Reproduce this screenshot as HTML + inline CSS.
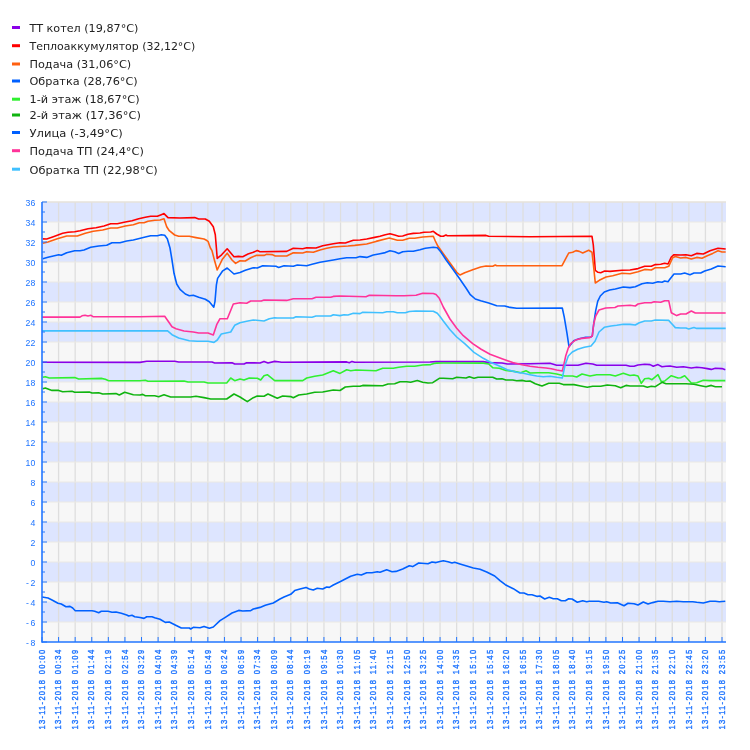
<!DOCTYPE html><html><head><meta charset="utf-8"><style>html,body{margin:0;padding:0;background:#fff;overflow:hidden;width:750px;height:750px;}svg{display:block;will-change:transform}</style></head><body>
<svg width="750" height="750" viewBox="0 0 750 750">
<rect width="750" height="750" fill="#fff"/>
<rect x="42" y="202" width="684" height="20" fill="#dde5ff"/>
<rect x="42" y="222" width="684" height="20" fill="#f7f7f7"/>
<rect x="42" y="242" width="684" height="20" fill="#dde5ff"/>
<rect x="42" y="262" width="684" height="20" fill="#f7f7f7"/>
<rect x="42" y="282" width="684" height="20" fill="#dde5ff"/>
<rect x="42" y="302" width="684" height="20" fill="#f7f7f7"/>
<rect x="42" y="322" width="684" height="20" fill="#dde5ff"/>
<rect x="42" y="342" width="684" height="20" fill="#f7f7f7"/>
<rect x="42" y="362" width="684" height="20" fill="#dde5ff"/>
<rect x="42" y="382" width="684" height="20" fill="#f7f7f7"/>
<rect x="42" y="402" width="684" height="20" fill="#dde5ff"/>
<rect x="42" y="422" width="684" height="20" fill="#f7f7f7"/>
<rect x="42" y="442" width="684" height="20" fill="#dde5ff"/>
<rect x="42" y="462" width="684" height="20" fill="#f7f7f7"/>
<rect x="42" y="482" width="684" height="20" fill="#dde5ff"/>
<rect x="42" y="502" width="684" height="20" fill="#f7f7f7"/>
<rect x="42" y="522" width="684" height="20" fill="#dde5ff"/>
<rect x="42" y="542" width="684" height="20" fill="#f7f7f7"/>
<rect x="42" y="562" width="684" height="20" fill="#dde5ff"/>
<rect x="42" y="582" width="684" height="20" fill="#f7f7f7"/>
<rect x="42" y="602" width="684" height="20" fill="#dde5ff"/>
<rect x="42" y="622" width="684" height="20" fill="#f7f7f7"/>
<line x1="58.59" y1="202" x2="58.59" y2="642" stroke="#dedede" stroke-width="1.3"/>
<line x1="75.17" y1="202" x2="75.17" y2="642" stroke="#dedede" stroke-width="1.3"/>
<line x1="91.76" y1="202" x2="91.76" y2="642" stroke="#dedede" stroke-width="1.3"/>
<line x1="108.34" y1="202" x2="108.34" y2="642" stroke="#dedede" stroke-width="1.3"/>
<line x1="124.93" y1="202" x2="124.93" y2="642" stroke="#dedede" stroke-width="1.3"/>
<line x1="141.51" y1="202" x2="141.51" y2="642" stroke="#dedede" stroke-width="1.3"/>
<line x1="158.10" y1="202" x2="158.10" y2="642" stroke="#dedede" stroke-width="1.3"/>
<line x1="174.68" y1="202" x2="174.68" y2="642" stroke="#dedede" stroke-width="1.3"/>
<line x1="191.27" y1="202" x2="191.27" y2="642" stroke="#dedede" stroke-width="1.3"/>
<line x1="207.85" y1="202" x2="207.85" y2="642" stroke="#dedede" stroke-width="1.3"/>
<line x1="224.44" y1="202" x2="224.44" y2="642" stroke="#dedede" stroke-width="1.3"/>
<line x1="241.02" y1="202" x2="241.02" y2="642" stroke="#dedede" stroke-width="1.3"/>
<line x1="257.61" y1="202" x2="257.61" y2="642" stroke="#dedede" stroke-width="1.3"/>
<line x1="274.20" y1="202" x2="274.20" y2="642" stroke="#dedede" stroke-width="1.3"/>
<line x1="290.78" y1="202" x2="290.78" y2="642" stroke="#dedede" stroke-width="1.3"/>
<line x1="307.37" y1="202" x2="307.37" y2="642" stroke="#dedede" stroke-width="1.3"/>
<line x1="323.95" y1="202" x2="323.95" y2="642" stroke="#dedede" stroke-width="1.3"/>
<line x1="340.54" y1="202" x2="340.54" y2="642" stroke="#dedede" stroke-width="1.3"/>
<line x1="357.12" y1="202" x2="357.12" y2="642" stroke="#dedede" stroke-width="1.3"/>
<line x1="373.71" y1="202" x2="373.71" y2="642" stroke="#dedede" stroke-width="1.3"/>
<line x1="390.29" y1="202" x2="390.29" y2="642" stroke="#dedede" stroke-width="1.3"/>
<line x1="406.88" y1="202" x2="406.88" y2="642" stroke="#dedede" stroke-width="1.3"/>
<line x1="423.46" y1="202" x2="423.46" y2="642" stroke="#dedede" stroke-width="1.3"/>
<line x1="440.05" y1="202" x2="440.05" y2="642" stroke="#dedede" stroke-width="1.3"/>
<line x1="456.63" y1="202" x2="456.63" y2="642" stroke="#dedede" stroke-width="1.3"/>
<line x1="473.22" y1="202" x2="473.22" y2="642" stroke="#dedede" stroke-width="1.3"/>
<line x1="489.80" y1="202" x2="489.80" y2="642" stroke="#dedede" stroke-width="1.3"/>
<line x1="506.39" y1="202" x2="506.39" y2="642" stroke="#dedede" stroke-width="1.3"/>
<line x1="522.98" y1="202" x2="522.98" y2="642" stroke="#dedede" stroke-width="1.3"/>
<line x1="539.56" y1="202" x2="539.56" y2="642" stroke="#dedede" stroke-width="1.3"/>
<line x1="556.15" y1="202" x2="556.15" y2="642" stroke="#dedede" stroke-width="1.3"/>
<line x1="572.73" y1="202" x2="572.73" y2="642" stroke="#dedede" stroke-width="1.3"/>
<line x1="589.32" y1="202" x2="589.32" y2="642" stroke="#dedede" stroke-width="1.3"/>
<line x1="605.90" y1="202" x2="605.90" y2="642" stroke="#dedede" stroke-width="1.3"/>
<line x1="622.49" y1="202" x2="622.49" y2="642" stroke="#dedede" stroke-width="1.3"/>
<line x1="639.07" y1="202" x2="639.07" y2="642" stroke="#dedede" stroke-width="1.3"/>
<line x1="655.66" y1="202" x2="655.66" y2="642" stroke="#dedede" stroke-width="1.3"/>
<line x1="672.24" y1="202" x2="672.24" y2="642" stroke="#dedede" stroke-width="1.3"/>
<line x1="688.83" y1="202" x2="688.83" y2="642" stroke="#dedede" stroke-width="1.3"/>
<line x1="705.41" y1="202" x2="705.41" y2="642" stroke="#dedede" stroke-width="1.3"/>
<line x1="722.00" y1="202" x2="722.00" y2="642" stroke="#dedede" stroke-width="1.3"/>
<line x1="42" y1="222" x2="726" y2="222" stroke="#ebe9e4" stroke-width="1"/>
<line x1="42" y1="242" x2="726" y2="242" stroke="#ebe9e4" stroke-width="1"/>
<line x1="42" y1="262" x2="726" y2="262" stroke="#ebe9e4" stroke-width="1"/>
<line x1="42" y1="282" x2="726" y2="282" stroke="#ebe9e4" stroke-width="1"/>
<line x1="42" y1="302" x2="726" y2="302" stroke="#ebe9e4" stroke-width="1"/>
<line x1="42" y1="322" x2="726" y2="322" stroke="#ebe9e4" stroke-width="1"/>
<line x1="42" y1="342" x2="726" y2="342" stroke="#ebe9e4" stroke-width="1"/>
<line x1="42" y1="362" x2="726" y2="362" stroke="#ebe9e4" stroke-width="1"/>
<line x1="42" y1="382" x2="726" y2="382" stroke="#ebe9e4" stroke-width="1"/>
<line x1="42" y1="402" x2="726" y2="402" stroke="#ebe9e4" stroke-width="1"/>
<line x1="42" y1="422" x2="726" y2="422" stroke="#ebe9e4" stroke-width="1"/>
<line x1="42" y1="442" x2="726" y2="442" stroke="#ebe9e4" stroke-width="1"/>
<line x1="42" y1="462" x2="726" y2="462" stroke="#ebe9e4" stroke-width="1"/>
<line x1="42" y1="482" x2="726" y2="482" stroke="#ebe9e4" stroke-width="1"/>
<line x1="42" y1="502" x2="726" y2="502" stroke="#ebe9e4" stroke-width="1"/>
<line x1="42" y1="522" x2="726" y2="522" stroke="#ebe9e4" stroke-width="1"/>
<line x1="42" y1="542" x2="726" y2="542" stroke="#ebe9e4" stroke-width="1"/>
<line x1="42" y1="562" x2="726" y2="562" stroke="#ebe9e4" stroke-width="1"/>
<line x1="42" y1="582" x2="726" y2="582" stroke="#ebe9e4" stroke-width="1"/>
<line x1="42" y1="602" x2="726" y2="602" stroke="#ebe9e4" stroke-width="1"/>
<line x1="42" y1="622" x2="726" y2="622" stroke="#ebe9e4" stroke-width="1"/>
<line x1="42" y1="202" x2="726" y2="202" stroke="#e6e2da" stroke-width="1.3"/>
<polyline points="42.0,362.3 140.0,362.4 146.7,361.3 174.7,361.3 178.7,362.0 212.0,362.0 214.7,363.0 232.0,362.7 234.7,364.0 244.0,364.0 246.7,362.7 260.0,363.0 264.0,361.4 268.0,363.0 274.7,361.4 280.0,362.0 281.3,362.3 346.7,361.9 349.3,362.7 352.0,361.4 354.7,362.3 430.0,362.0 436.0,361.6 483.3,361.6 488.7,362.6 502.0,363.0 507.3,364.0 530.0,363.8 550.0,363.3 556.7,365.3 578.0,365.3 586.0,363.3 592.7,364.0 596.7,365.3 626.0,365.3 630.0,366.3 634.0,366.3 638.0,365.0 644.7,364.3 650.0,364.6 653.3,366.3 658.0,364.6 662.0,366.7 666.0,366.3 670.0,366.0 676.7,367.3 683.3,366.7 691.3,368.0 696.7,367.3 702.0,367.7 707.3,368.6 711.3,369.4 715.3,368.3 722.0,368.6 725.3,369.7" fill="none" stroke="#8a00e8" stroke-width="1.6" stroke-linejoin="round" stroke-linecap="butt"/>
<polyline points="42.7,238.9 46.7,239.0 53.3,236.7 57.3,235.3 62.7,233.3 68.0,232.3 74.7,231.7 80.0,230.7 88.0,228.7 96.0,227.7 104.0,226.0 110.7,223.7 117.3,223.7 125.3,222.0 132.0,220.7 138.7,218.7 145.3,217.3 150.7,216.3 157.3,216.3 161.3,214.7 164.0,213.6 168.0,217.6 180.0,218.0 194.7,217.6 198.7,219.0 205.3,219.0 209.3,221.3 213.3,226.7 215.3,234.7 216.4,248.0 217.2,258.4 221.6,254.8 227.2,248.8 234.0,256.8 238.4,256.4 242.7,256.7 248.0,254.0 253.3,252.3 257.3,250.6 260.0,251.7 286.7,251.4 293.3,248.3 302.7,248.7 306.7,247.7 316.0,248.0 322.7,245.7 333.3,243.7 340.0,242.8 345.3,243.0 353.3,240.3 360.0,240.0 366.7,239.0 374.7,237.4 380.0,236.3 385.3,234.7 390.0,233.7 394.7,235.0 398.7,236.3 402.7,236.0 408.0,234.3 413.3,233.4 420.0,233.0 424.0,232.3 430.7,232.0 433.3,231.3 436.7,234.0 440.7,236.3 443.3,236.3 446.0,235.0 447.3,235.7 486.0,235.4 488.7,236.3 530.0,236.7 592.0,236.3 593.3,245.0 594.7,262.3 595.3,270.3 598.0,272.3 600.7,272.7 604.7,271.0 610.0,271.4 622.0,270.3 630.0,270.0 638.0,268.6 644.7,266.3 651.3,266.3 655.3,264.6 660.7,264.3 664.7,263.3 668.0,264.0 671.3,257.0 674.0,254.7 680.7,255.0 686.0,254.7 691.3,255.7 696.7,253.4 703.3,254.0 710.0,250.7 718.0,248.3 725.7,249.0" fill="none" stroke="#ff0000" stroke-width="1.6" stroke-linejoin="round" stroke-linecap="butt"/>
<polyline points="42.7,243.3 48.0,242.0 57.3,238.7 66.7,236.0 77.3,236.0 85.3,233.3 93.3,231.3 102.7,230.0 110.7,228.0 117.3,228.0 125.3,226.0 133.3,224.7 139.3,222.7 144.0,222.7 148.0,221.3 154.7,220.3 160.0,220.0 164.0,218.7 166.7,226.7 169.3,230.7 174.7,235.0 178.7,236.3 189.3,236.3 196.0,237.6 204.0,239.0 206.0,240.0 208.0,241.3 210.4,248.0 212.0,250.7 214.4,260.0 217.2,270.0 222.4,259.2 227.2,253.2 232.0,260.0 235.6,263.4 240.0,260.8 245.3,261.0 250.7,257.7 256.0,255.4 264.0,255.4 266.7,254.3 272.0,254.6 275.3,256.0 286.7,256.0 293.3,252.7 302.7,253.0 306.7,251.7 313.3,252.3 320.0,250.0 326.7,248.3 333.3,247.0 340.0,246.5 348.0,246.0 354.7,245.4 366.7,244.0 376.0,241.4 389.3,238.0 397.3,240.3 402.7,240.3 409.3,238.3 414.7,238.3 422.7,237.0 433.3,236.2 435.3,241.0 438.0,246.3 443.3,253.7 450.0,263.0 456.7,272.3 460.0,275.0 464.7,272.7 472.7,269.7 480.7,267.0 486.0,266.0 492.7,266.3 495.3,265.0 496.7,265.7 562.0,265.7 568.7,253.0 572.7,252.3 576.0,250.6 579.3,251.4 582.7,253.0 588.7,250.3 592.0,252.3 593.3,263.7 595.3,283.0 599.3,280.3 606.0,277.0 612.7,275.7 622.0,273.3 630.0,273.7 638.0,271.7 644.7,269.4 651.3,270.0 655.3,267.7 664.7,267.7 668.7,266.3 672.7,257.7 675.3,256.6 680.7,258.0 686.0,257.4 691.3,259.0 696.7,257.4 702.0,258.3 707.3,255.7 712.7,253.4 718.0,250.7 722.0,252.0 725.7,252.0" fill="none" stroke="#ff6010" stroke-width="1.6" stroke-linejoin="round" stroke-linecap="butt"/>
<polyline points="42.7,258.7 48.0,257.3 53.3,256.0 58.7,254.7 61.3,255.3 66.7,252.7 74.7,250.7 80.0,250.7 84.0,250.0 90.7,247.3 98.7,246.0 106.7,245.3 112.0,242.7 120.0,242.7 126.7,241.0 133.3,240.0 139.3,238.5 145.3,237.0 150.7,235.7 157.3,235.7 161.3,234.7 164.7,235.3 167.3,238.7 170.0,248.0 172.0,260.0 174.0,273.3 176.7,284.0 180.0,289.3 185.3,294.0 189.3,295.7 193.3,295.3 198.7,297.3 205.3,299.3 209.3,301.8 213.8,307.2 215.0,301.3 216.4,284.8 217.6,278.4 222.4,271.2 227.2,268.0 234.0,274.0 240.0,272.4 245.3,270.3 253.3,267.7 257.3,268.0 262.7,265.7 276.0,266.3 278.7,267.4 284.0,265.7 293.3,266.3 297.3,265.0 306.7,265.7 312.0,264.3 320.0,262.3 333.3,260.0 340.0,258.8 346.7,257.7 356.0,257.7 360.0,256.6 366.7,257.4 373.3,255.0 380.0,253.7 385.3,252.6 390.0,250.7 394.7,251.7 398.7,253.4 402.7,251.7 408.0,251.3 413.3,251.3 420.0,249.7 425.3,248.3 433.3,247.3 437.3,247.8 440.7,251.7 446.0,259.7 452.7,269.0 459.3,278.3 466.0,288.0 470.0,294.3 475.3,299.0 480.7,300.7 488.7,303.0 496.7,305.7 504.7,306.0 510.0,307.4 516.7,308.3 562.3,308.0 564.3,317.3 567.0,333.3 569.0,346.7 573.7,340.7 579.0,338.7 585.7,337.3 590.3,337.3 592.3,336.0 593.0,329.3 594.3,320.0 595.7,310.7 597.7,301.3 600.3,296.0 604.3,292.0 609.7,290.0 615.3,289.0 623.3,287.0 630.0,287.6 635.3,286.7 642.0,283.7 647.3,282.7 652.7,283.3 658.0,281.7 662.0,282.3 664.7,281.0 668.0,281.7 670.0,279.0 674.0,274.0 680.7,274.0 684.7,273.0 690.0,274.7 694.0,273.0 700.7,273.0 704.7,271.0 711.3,269.0 718.0,266.0 725.7,266.7" fill="none" stroke="#0060ff" stroke-width="1.6" stroke-linejoin="round" stroke-linecap="butt"/>
<polyline points="42.7,377.3 45.3,376.7 49.3,378.0 74.7,377.6 78.7,379.0 101.3,378.4 105.3,379.3 108.7,380.7 140.0,380.7 145.3,380.3 148.0,381.3 184.0,381.0 188.0,382.0 204.0,382.0 208.0,383.0 226.7,383.0 230.7,378.0 234.7,380.7 240.0,379.0 244.0,380.0 249.3,378.0 257.3,378.3 260.7,380.0 264.0,375.7 267.3,374.7 274.7,380.6 302.7,380.6 306.7,378.0 314.7,376.3 322.7,375.0 333.3,370.7 340.0,373.4 346.7,369.7 350.7,370.7 356.0,370.0 376.0,370.7 382.7,368.3 393.3,368.3 398.7,367.3 406.7,366.3 414.7,366.3 422.7,365.0 430.7,364.6 434.0,363.5 436.7,363.1 443.3,363.0 483.3,363.1 488.7,364.0 493.0,367.8 499.3,368.2 506.0,370.5 514.0,371.4 520.7,372.8 526.0,370.8 530.0,373.0 538.0,372.7 548.7,372.7 556.7,374.0 564.7,376.0 572.7,376.0 576.7,377.0 582.0,374.0 590.0,376.0 596.7,374.7 610.0,374.7 615.3,376.0 623.3,373.3 630.0,375.5 634.0,375.0 638.0,376.0 641.3,383.3 644.7,378.7 648.7,378.3 652.0,379.7 658.0,374.7 661.3,381.7 664.7,381.0 671.3,375.7 678.0,378.0 680.7,377.7 684.7,375.7 691.3,383.0 696.7,382.7 703.3,380.3 710.0,380.6 725.3,380.6" fill="none" stroke="#30f030" stroke-width="1.6" stroke-linejoin="round" stroke-linecap="butt"/>
<polyline points="42.7,388.7 45.3,388.0 52.0,390.4 58.7,390.4 62.7,391.7 72.0,391.3 74.7,392.3 89.3,392.0 92.0,393.0 98.7,392.7 102.7,394.0 116.0,393.6 119.3,395.0 124.7,392.3 133.3,394.7 140.0,395.0 142.7,394.4 145.3,395.7 154.7,395.7 158.7,396.7 164.0,394.7 170.7,397.0 190.7,397.0 196.0,396.3 204.0,397.6 210.7,399.0 226.7,399.0 234.0,394.0 240.0,397.0 247.3,401.7 253.3,397.7 257.3,396.0 264.0,396.3 268.0,394.0 277.3,398.3 282.7,396.0 290.7,396.6 293.3,397.7 298.7,395.0 306.7,394.0 314.7,392.3 322.7,392.0 333.3,390.0 340.0,390.5 345.3,387.0 353.3,386.3 360.0,386.3 362.7,385.4 382.7,385.7 388.0,384.0 394.7,383.7 400.0,381.7 406.7,381.7 410.7,382.3 417.3,380.6 422.7,382.3 428.0,383.0 432.7,382.7 439.3,378.3 443.3,378.3 452.7,378.7 456.7,377.3 466.0,378.0 469.3,376.7 474.0,378.3 478.0,377.3 492.7,377.3 496.7,379.0 502.0,378.7 506.0,380.0 512.7,380.0 516.7,380.7 522.0,380.4 526.0,381.3 530.0,381.0 535.3,383.7 542.0,386.0 548.7,383.3 559.3,383.3 563.3,384.6 574.0,384.6 580.7,386.0 587.3,387.3 592.7,386.3 600.7,386.3 607.3,385.0 615.3,385.7 620.7,387.7 626.0,385.4 630.0,386.0 643.3,386.0 647.3,387.3 651.3,386.3 655.3,386.7 662.0,382.3 666.0,383.7 686.0,383.7 694.0,384.3 700.7,385.7 706.0,386.7 711.3,385.4 715.3,386.7 722.0,386.7" fill="none" stroke="#10b410" stroke-width="1.6" stroke-linejoin="round" stroke-linecap="butt"/>
<polyline points="42.0,597.0 48.0,598.0 52.0,600.0 58.0,603.3 61.3,604.0 66.0,606.7 70.0,606.4 72.7,608.0 75.3,610.7 92.0,610.7 94.7,611.3 98.7,612.7 101.3,611.3 108.0,611.3 112.0,612.3 116.0,612.0 121.3,613.3 126.7,615.0 128.7,616.0 132.0,615.3 134.7,616.7 140.0,617.5 144.0,618.4 146.7,616.7 152.0,616.7 154.7,617.7 160.0,619.3 165.3,622.4 169.3,622.0 174.7,624.7 181.3,628.0 189.3,628.0 190.7,629.0 193.3,627.3 200.0,627.7 204.0,626.4 209.3,628.3 213.3,627.0 220.0,620.7 225.3,617.3 232.0,613.0 238.7,610.4 242.7,611.0 250.7,610.6 253.3,609.0 260.0,607.4 265.3,605.3 273.3,603.0 280.0,599.0 284.0,597.0 290.7,594.3 294.7,590.6 300.0,589.0 306.0,587.4 309.3,589.0 313.3,590.0 317.3,588.3 322.7,589.0 326.7,587.0 329.3,587.4 333.3,585.0 340.0,581.7 345.3,579.0 350.7,576.3 357.3,574.3 361.3,575.0 366.7,572.7 372.0,572.7 377.3,571.7 380.0,572.3 386.7,569.7 392.0,571.7 396.0,571.4 402.7,569.0 409.3,565.7 412.7,566.6 418.7,563.0 428.0,563.7 432.0,562.0 436.0,562.6 440.0,561.5 443.3,560.7 448.0,561.7 452.0,563.0 454.7,562.3 460.0,564.0 466.7,566.0 473.3,568.0 480.0,569.3 486.7,572.0 494.7,576.0 500.0,580.7 505.3,584.7 513.3,588.7 520.0,593.0 524.0,593.0 528.0,594.7 532.0,594.7 537.3,596.4 540.0,596.0 544.7,599.0 549.3,597.3 553.3,598.7 557.3,598.7 561.3,600.7 565.3,600.7 568.7,598.7 572.0,599.0 577.3,602.3 582.7,600.7 586.7,601.7 589.3,601.3 598.7,601.3 604.0,602.3 606.7,601.7 610.7,603.0 617.3,602.7 624.0,605.7 628.0,603.3 634.0,603.7 638.0,605.0 643.3,602.0 648.0,604.0 652.7,602.6 658.0,601.3 663.3,601.3 670.0,601.7 676.7,601.3 683.3,601.7 692.7,601.7 696.7,602.3 703.3,603.0 710.0,601.3 715.3,601.3 719.3,601.7 725.3,601.3" fill="none" stroke="#0060ff" stroke-width="1.6" stroke-linejoin="round" stroke-linecap="butt"/>
<polyline points="42.0,317.1 80.0,317.1 82.0,315.8 85.0,315.2 88.0,316.0 91.0,315.3 93.0,316.7 140.0,316.7 164.7,316.3 168.7,322.0 172.0,326.7 176.0,328.7 184.0,331.0 193.3,332.0 198.7,333.0 208.0,333.0 213.3,335.0 216.7,324.7 220.0,318.7 227.3,318.7 233.3,304.0 240.0,302.7 246.7,303.3 250.7,301.0 261.3,301.0 264.0,300.0 286.7,300.4 293.3,298.7 312.0,298.7 316.0,297.3 330.7,297.3 333.3,296.4 340.0,296.0 366.0,296.7 369.3,295.3 396.0,295.7 404.0,295.7 416.0,295.3 422.7,293.3 433.3,293.5 436.0,294.5 439.3,298.3 443.3,307.0 450.0,319.0 456.7,328.3 463.3,335.7 472.7,343.7 480.7,349.0 490.0,354.2 502.0,358.7 512.7,362.5 522.0,364.7 530.0,366.3 538.0,367.3 546.0,368.0 551.3,368.7 556.7,370.0 562.3,371.0 563.7,365.3 565.7,356.0 568.3,348.0 571.0,343.3 576.3,339.7 581.7,338.4 589.7,337.6 592.3,336.0 593.7,324.0 595.7,316.0 599.0,310.0 605.7,308.0 615.0,307.5 618.0,306.0 630.0,305.3 635.3,306.0 638.0,304.0 644.7,302.7 651.3,302.7 654.0,301.7 660.7,302.3 664.7,300.7 668.7,300.7 671.3,312.7 676.7,315.6 680.7,314.0 686.0,314.0 691.3,311.0 695.3,313.0 725.7,313.0" fill="none" stroke="#ff3399" stroke-width="1.6" stroke-linejoin="round" stroke-linecap="butt"/>
<polyline points="42.0,330.9 167.3,330.7 172.0,334.7 178.7,338.0 189.3,340.7 197.3,341.3 208.0,341.3 214.0,342.4 217.3,340.0 221.3,334.0 230.7,332.0 234.7,325.3 240.0,322.7 246.7,321.3 253.3,320.0 264.0,321.0 269.3,318.7 274.7,317.7 277.3,318.0 293.3,318.0 296.0,316.7 312.0,317.3 316.0,316.0 330.7,316.0 333.3,314.7 340.0,315.6 344.0,314.7 348.0,315.0 353.3,313.3 360.0,313.6 362.7,312.3 382.7,312.7 386.7,311.7 393.3,311.7 397.3,312.8 405.3,312.8 409.3,311.5 416.0,311.0 433.3,311.2 437.3,313.3 440.0,316.5 443.3,321.0 450.0,329.7 456.7,337.0 464.7,343.7 474.0,352.3 483.3,358.3 490.0,362.0 499.3,366.0 507.3,369.7 516.7,372.3 523.3,373.3 530.0,374.7 536.7,376.0 543.3,376.7 550.0,376.3 556.7,377.3 562.3,378.0 565.0,365.3 568.3,356.0 572.3,352.0 577.7,349.3 584.3,347.3 591.0,346.0 595.0,341.3 599.0,332.0 604.3,327.3 611.0,326.0 616.7,325.3 623.3,324.3 630.0,324.4 635.3,325.0 639.3,322.7 644.7,321.0 651.3,321.0 655.3,320.0 668.7,320.4 671.3,323.3 675.3,327.6 680.7,328.0 686.0,328.0 688.7,329.0 694.0,327.6 696.7,328.4 725.7,328.4" fill="none" stroke="#40c0ff" stroke-width="1.6" stroke-linejoin="round" stroke-linecap="butt"/>
<line x1="42" y1="202" x2="42" y2="642.7" stroke="#2276ff" stroke-width="1.6"/>
<line x1="42" y1="642" x2="726" y2="642" stroke="#2276ff" stroke-width="1.6"/>
<line x1="42" y1="202" x2="47" y2="202" stroke="#2276ff" stroke-width="1"/>
<line x1="42" y1="212" x2="45" y2="212" stroke="#2276ff" stroke-width="1"/>
<line x1="42" y1="222" x2="47" y2="222" stroke="#2276ff" stroke-width="1"/>
<line x1="42" y1="232" x2="45" y2="232" stroke="#2276ff" stroke-width="1"/>
<line x1="42" y1="242" x2="47" y2="242" stroke="#2276ff" stroke-width="1"/>
<line x1="42" y1="252" x2="45" y2="252" stroke="#2276ff" stroke-width="1"/>
<line x1="42" y1="262" x2="47" y2="262" stroke="#2276ff" stroke-width="1"/>
<line x1="42" y1="272" x2="45" y2="272" stroke="#2276ff" stroke-width="1"/>
<line x1="42" y1="282" x2="47" y2="282" stroke="#2276ff" stroke-width="1"/>
<line x1="42" y1="292" x2="45" y2="292" stroke="#2276ff" stroke-width="1"/>
<line x1="42" y1="302" x2="47" y2="302" stroke="#2276ff" stroke-width="1"/>
<line x1="42" y1="312" x2="45" y2="312" stroke="#2276ff" stroke-width="1"/>
<line x1="42" y1="322" x2="47" y2="322" stroke="#2276ff" stroke-width="1"/>
<line x1="42" y1="332" x2="45" y2="332" stroke="#2276ff" stroke-width="1"/>
<line x1="42" y1="342" x2="47" y2="342" stroke="#2276ff" stroke-width="1"/>
<line x1="42" y1="352" x2="45" y2="352" stroke="#2276ff" stroke-width="1"/>
<line x1="42" y1="362" x2="47" y2="362" stroke="#2276ff" stroke-width="1"/>
<line x1="42" y1="372" x2="45" y2="372" stroke="#2276ff" stroke-width="1"/>
<line x1="42" y1="382" x2="47" y2="382" stroke="#2276ff" stroke-width="1"/>
<line x1="42" y1="392" x2="45" y2="392" stroke="#2276ff" stroke-width="1"/>
<line x1="42" y1="402" x2="47" y2="402" stroke="#2276ff" stroke-width="1"/>
<line x1="42" y1="412" x2="45" y2="412" stroke="#2276ff" stroke-width="1"/>
<line x1="42" y1="422" x2="47" y2="422" stroke="#2276ff" stroke-width="1"/>
<line x1="42" y1="432" x2="45" y2="432" stroke="#2276ff" stroke-width="1"/>
<line x1="42" y1="442" x2="47" y2="442" stroke="#2276ff" stroke-width="1"/>
<line x1="42" y1="452" x2="45" y2="452" stroke="#2276ff" stroke-width="1"/>
<line x1="42" y1="462" x2="47" y2="462" stroke="#2276ff" stroke-width="1"/>
<line x1="42" y1="472" x2="45" y2="472" stroke="#2276ff" stroke-width="1"/>
<line x1="42" y1="482" x2="47" y2="482" stroke="#2276ff" stroke-width="1"/>
<line x1="42" y1="492" x2="45" y2="492" stroke="#2276ff" stroke-width="1"/>
<line x1="42" y1="502" x2="47" y2="502" stroke="#2276ff" stroke-width="1"/>
<line x1="42" y1="512" x2="45" y2="512" stroke="#2276ff" stroke-width="1"/>
<line x1="42" y1="522" x2="47" y2="522" stroke="#2276ff" stroke-width="1"/>
<line x1="42" y1="532" x2="45" y2="532" stroke="#2276ff" stroke-width="1"/>
<line x1="42" y1="542" x2="47" y2="542" stroke="#2276ff" stroke-width="1"/>
<line x1="42" y1="552" x2="45" y2="552" stroke="#2276ff" stroke-width="1"/>
<line x1="42" y1="562" x2="47" y2="562" stroke="#2276ff" stroke-width="1"/>
<line x1="42" y1="572" x2="45" y2="572" stroke="#2276ff" stroke-width="1"/>
<line x1="42" y1="582" x2="47" y2="582" stroke="#2276ff" stroke-width="1"/>
<line x1="42" y1="592" x2="45" y2="592" stroke="#2276ff" stroke-width="1"/>
<line x1="42" y1="602" x2="47" y2="602" stroke="#2276ff" stroke-width="1"/>
<line x1="42" y1="612" x2="45" y2="612" stroke="#2276ff" stroke-width="1"/>
<line x1="42" y1="622" x2="47" y2="622" stroke="#2276ff" stroke-width="1"/>
<line x1="42" y1="632" x2="45" y2="632" stroke="#2276ff" stroke-width="1"/>
<line x1="42" y1="642" x2="47" y2="642" stroke="#2276ff" stroke-width="1"/>
<line x1="42.00" y1="637" x2="42.00" y2="642" stroke="#2276ff" stroke-width="1"/>
<line x1="58.59" y1="637" x2="58.59" y2="642" stroke="#2276ff" stroke-width="1"/>
<line x1="75.17" y1="637" x2="75.17" y2="642" stroke="#2276ff" stroke-width="1"/>
<line x1="91.76" y1="637" x2="91.76" y2="642" stroke="#2276ff" stroke-width="1"/>
<line x1="108.34" y1="637" x2="108.34" y2="642" stroke="#2276ff" stroke-width="1"/>
<line x1="124.93" y1="637" x2="124.93" y2="642" stroke="#2276ff" stroke-width="1"/>
<line x1="141.51" y1="637" x2="141.51" y2="642" stroke="#2276ff" stroke-width="1"/>
<line x1="158.10" y1="637" x2="158.10" y2="642" stroke="#2276ff" stroke-width="1"/>
<line x1="174.68" y1="637" x2="174.68" y2="642" stroke="#2276ff" stroke-width="1"/>
<line x1="191.27" y1="637" x2="191.27" y2="642" stroke="#2276ff" stroke-width="1"/>
<line x1="207.85" y1="637" x2="207.85" y2="642" stroke="#2276ff" stroke-width="1"/>
<line x1="224.44" y1="637" x2="224.44" y2="642" stroke="#2276ff" stroke-width="1"/>
<line x1="241.02" y1="637" x2="241.02" y2="642" stroke="#2276ff" stroke-width="1"/>
<line x1="257.61" y1="637" x2="257.61" y2="642" stroke="#2276ff" stroke-width="1"/>
<line x1="274.20" y1="637" x2="274.20" y2="642" stroke="#2276ff" stroke-width="1"/>
<line x1="290.78" y1="637" x2="290.78" y2="642" stroke="#2276ff" stroke-width="1"/>
<line x1="307.37" y1="637" x2="307.37" y2="642" stroke="#2276ff" stroke-width="1"/>
<line x1="323.95" y1="637" x2="323.95" y2="642" stroke="#2276ff" stroke-width="1"/>
<line x1="340.54" y1="637" x2="340.54" y2="642" stroke="#2276ff" stroke-width="1"/>
<line x1="357.12" y1="637" x2="357.12" y2="642" stroke="#2276ff" stroke-width="1"/>
<line x1="373.71" y1="637" x2="373.71" y2="642" stroke="#2276ff" stroke-width="1"/>
<line x1="390.29" y1="637" x2="390.29" y2="642" stroke="#2276ff" stroke-width="1"/>
<line x1="406.88" y1="637" x2="406.88" y2="642" stroke="#2276ff" stroke-width="1"/>
<line x1="423.46" y1="637" x2="423.46" y2="642" stroke="#2276ff" stroke-width="1"/>
<line x1="440.05" y1="637" x2="440.05" y2="642" stroke="#2276ff" stroke-width="1"/>
<line x1="456.63" y1="637" x2="456.63" y2="642" stroke="#2276ff" stroke-width="1"/>
<line x1="473.22" y1="637" x2="473.22" y2="642" stroke="#2276ff" stroke-width="1"/>
<line x1="489.80" y1="637" x2="489.80" y2="642" stroke="#2276ff" stroke-width="1"/>
<line x1="506.39" y1="637" x2="506.39" y2="642" stroke="#2276ff" stroke-width="1"/>
<line x1="522.98" y1="637" x2="522.98" y2="642" stroke="#2276ff" stroke-width="1"/>
<line x1="539.56" y1="637" x2="539.56" y2="642" stroke="#2276ff" stroke-width="1"/>
<line x1="556.15" y1="637" x2="556.15" y2="642" stroke="#2276ff" stroke-width="1"/>
<line x1="572.73" y1="637" x2="572.73" y2="642" stroke="#2276ff" stroke-width="1"/>
<line x1="589.32" y1="637" x2="589.32" y2="642" stroke="#2276ff" stroke-width="1"/>
<line x1="605.90" y1="637" x2="605.90" y2="642" stroke="#2276ff" stroke-width="1"/>
<line x1="622.49" y1="637" x2="622.49" y2="642" stroke="#2276ff" stroke-width="1"/>
<line x1="639.07" y1="637" x2="639.07" y2="642" stroke="#2276ff" stroke-width="1"/>
<line x1="655.66" y1="637" x2="655.66" y2="642" stroke="#2276ff" stroke-width="1"/>
<line x1="672.24" y1="637" x2="672.24" y2="642" stroke="#2276ff" stroke-width="1"/>
<line x1="688.83" y1="637" x2="688.83" y2="642" stroke="#2276ff" stroke-width="1"/>
<line x1="705.41" y1="637" x2="705.41" y2="642" stroke="#2276ff" stroke-width="1"/>
<line x1="722.00" y1="637" x2="722.00" y2="642" stroke="#2276ff" stroke-width="1"/>
<g font-family="Liberation Sans, Arial, sans-serif" font-size="9.5" fill="#1e74ff" text-anchor="end">
<text transform="translate(35.3,205.9) scale(0.92,1)">36</text>
<text transform="translate(35.3,225.9) scale(0.92,1)">34</text>
<text transform="translate(35.3,245.9) scale(0.92,1)">32</text>
<text transform="translate(35.3,265.9) scale(0.92,1)">30</text>
<text transform="translate(35.3,285.9) scale(0.92,1)">28</text>
<text transform="translate(35.3,305.9) scale(0.92,1)">26</text>
<text transform="translate(35.3,325.9) scale(0.92,1)">24</text>
<text transform="translate(35.3,345.9) scale(0.92,1)">22</text>
<text transform="translate(35.3,365.9) scale(0.92,1)">20</text>
<text transform="translate(35.3,385.9) scale(0.92,1)">18</text>
<text transform="translate(35.3,405.9) scale(0.92,1)">16</text>
<text transform="translate(35.3,425.9) scale(0.92,1)">14</text>
<text transform="translate(35.3,445.9) scale(0.92,1)">12</text>
<text transform="translate(35.3,465.9) scale(0.92,1)">10</text>
<text transform="translate(35.3,485.9) scale(0.92,1)">8</text>
<text transform="translate(35.3,505.9) scale(0.92,1)">6</text>
<text transform="translate(35.3,525.9) scale(0.92,1)">4</text>
<text transform="translate(35.3,545.9) scale(0.92,1)">2</text>
<text transform="translate(35.3,565.9) scale(0.92,1)">0</text>
<text transform="translate(35.3,585.9) scale(0.92,1)">-<tspan dx="1.6">2</tspan></text>
<text transform="translate(35.3,605.9) scale(0.92,1)">-<tspan dx="1.6">4</tspan></text>
<text transform="translate(35.3,625.9) scale(0.92,1)">-<tspan dx="1.6">6</tspan></text>
<text transform="translate(35.3,645.9) scale(0.92,1)">-<tspan dx="1.6">8</tspan></text>
</g>
<g font-family="Liberation Sans, Arial, sans-serif" font-size="9.6" fill="#1e74ff" stroke="#1e74ff" stroke-width="0.38">
<text transform="translate(44.70,729.5) rotate(-90) scale(0.79,1)" textLength="62.66" lengthAdjust="spacing">13-11-2018</text>
<text transform="translate(44.70,674.3) rotate(-90) scale(0.79,1)" textLength="31.01" lengthAdjust="spacing">00:00</text>
<text transform="translate(61.29,729.5) rotate(-90) scale(0.79,1)" textLength="62.66" lengthAdjust="spacing">13-11-2018</text>
<text transform="translate(61.29,674.3) rotate(-90) scale(0.79,1)" textLength="31.01" lengthAdjust="spacing">00:34</text>
<text transform="translate(77.87,729.5) rotate(-90) scale(0.79,1)" textLength="62.66" lengthAdjust="spacing">13-11-2018</text>
<text transform="translate(77.87,674.3) rotate(-90) scale(0.79,1)" textLength="31.01" lengthAdjust="spacing">01:09</text>
<text transform="translate(94.46,729.5) rotate(-90) scale(0.79,1)" textLength="62.66" lengthAdjust="spacing">13-11-2018</text>
<text transform="translate(94.46,674.3) rotate(-90) scale(0.79,1)" textLength="31.01" lengthAdjust="spacing">01:44</text>
<text transform="translate(111.04,729.5) rotate(-90) scale(0.79,1)" textLength="62.66" lengthAdjust="spacing">13-11-2018</text>
<text transform="translate(111.04,674.3) rotate(-90) scale(0.79,1)" textLength="31.01" lengthAdjust="spacing">02:19</text>
<text transform="translate(127.63,729.5) rotate(-90) scale(0.79,1)" textLength="62.66" lengthAdjust="spacing">13-11-2018</text>
<text transform="translate(127.63,674.3) rotate(-90) scale(0.79,1)" textLength="31.01" lengthAdjust="spacing">02:54</text>
<text transform="translate(144.21,729.5) rotate(-90) scale(0.79,1)" textLength="62.66" lengthAdjust="spacing">13-11-2018</text>
<text transform="translate(144.21,674.3) rotate(-90) scale(0.79,1)" textLength="31.01" lengthAdjust="spacing">03:29</text>
<text transform="translate(160.80,729.5) rotate(-90) scale(0.79,1)" textLength="62.66" lengthAdjust="spacing">13-11-2018</text>
<text transform="translate(160.80,674.3) rotate(-90) scale(0.79,1)" textLength="31.01" lengthAdjust="spacing">04:04</text>
<text transform="translate(177.38,729.5) rotate(-90) scale(0.79,1)" textLength="62.66" lengthAdjust="spacing">13-11-2018</text>
<text transform="translate(177.38,674.3) rotate(-90) scale(0.79,1)" textLength="31.01" lengthAdjust="spacing">04:39</text>
<text transform="translate(193.97,729.5) rotate(-90) scale(0.79,1)" textLength="62.66" lengthAdjust="spacing">13-11-2018</text>
<text transform="translate(193.97,674.3) rotate(-90) scale(0.79,1)" textLength="31.01" lengthAdjust="spacing">05:14</text>
<text transform="translate(210.55,729.5) rotate(-90) scale(0.79,1)" textLength="62.66" lengthAdjust="spacing">13-11-2018</text>
<text transform="translate(210.55,674.3) rotate(-90) scale(0.79,1)" textLength="31.01" lengthAdjust="spacing">05:49</text>
<text transform="translate(227.14,729.5) rotate(-90) scale(0.79,1)" textLength="62.66" lengthAdjust="spacing">13-11-2018</text>
<text transform="translate(227.14,674.3) rotate(-90) scale(0.79,1)" textLength="31.01" lengthAdjust="spacing">06:24</text>
<text transform="translate(243.72,729.5) rotate(-90) scale(0.79,1)" textLength="62.66" lengthAdjust="spacing">13-11-2018</text>
<text transform="translate(243.72,674.3) rotate(-90) scale(0.79,1)" textLength="31.01" lengthAdjust="spacing">06:59</text>
<text transform="translate(260.31,729.5) rotate(-90) scale(0.79,1)" textLength="62.66" lengthAdjust="spacing">13-11-2018</text>
<text transform="translate(260.31,674.3) rotate(-90) scale(0.79,1)" textLength="31.01" lengthAdjust="spacing">07:34</text>
<text transform="translate(276.90,729.5) rotate(-90) scale(0.79,1)" textLength="62.66" lengthAdjust="spacing">13-11-2018</text>
<text transform="translate(276.90,674.3) rotate(-90) scale(0.79,1)" textLength="31.01" lengthAdjust="spacing">08:09</text>
<text transform="translate(293.48,729.5) rotate(-90) scale(0.79,1)" textLength="62.66" lengthAdjust="spacing">13-11-2018</text>
<text transform="translate(293.48,674.3) rotate(-90) scale(0.79,1)" textLength="31.01" lengthAdjust="spacing">08:44</text>
<text transform="translate(310.07,729.5) rotate(-90) scale(0.79,1)" textLength="62.66" lengthAdjust="spacing">13-11-2018</text>
<text transform="translate(310.07,674.3) rotate(-90) scale(0.79,1)" textLength="31.01" lengthAdjust="spacing">09:19</text>
<text transform="translate(326.65,729.5) rotate(-90) scale(0.79,1)" textLength="62.66" lengthAdjust="spacing">13-11-2018</text>
<text transform="translate(326.65,674.3) rotate(-90) scale(0.79,1)" textLength="31.01" lengthAdjust="spacing">09:54</text>
<text transform="translate(343.24,729.5) rotate(-90) scale(0.79,1)" textLength="62.66" lengthAdjust="spacing">13-11-2018</text>
<text transform="translate(343.24,674.3) rotate(-90) scale(0.79,1)" textLength="31.01" lengthAdjust="spacing">10:30</text>
<text transform="translate(359.82,729.5) rotate(-90) scale(0.79,1)" textLength="62.66" lengthAdjust="spacing">13-11-2018</text>
<text transform="translate(359.82,674.3) rotate(-90) scale(0.79,1)" textLength="31.01" lengthAdjust="spacing">11:05</text>
<text transform="translate(376.41,729.5) rotate(-90) scale(0.79,1)" textLength="62.66" lengthAdjust="spacing">13-11-2018</text>
<text transform="translate(376.41,674.3) rotate(-90) scale(0.79,1)" textLength="31.01" lengthAdjust="spacing">11:40</text>
<text transform="translate(392.99,729.5) rotate(-90) scale(0.79,1)" textLength="62.66" lengthAdjust="spacing">13-11-2018</text>
<text transform="translate(392.99,674.3) rotate(-90) scale(0.79,1)" textLength="31.01" lengthAdjust="spacing">12:15</text>
<text transform="translate(409.58,729.5) rotate(-90) scale(0.79,1)" textLength="62.66" lengthAdjust="spacing">13-11-2018</text>
<text transform="translate(409.58,674.3) rotate(-90) scale(0.79,1)" textLength="31.01" lengthAdjust="spacing">12:50</text>
<text transform="translate(426.16,729.5) rotate(-90) scale(0.79,1)" textLength="62.66" lengthAdjust="spacing">13-11-2018</text>
<text transform="translate(426.16,674.3) rotate(-90) scale(0.79,1)" textLength="31.01" lengthAdjust="spacing">13:25</text>
<text transform="translate(442.75,729.5) rotate(-90) scale(0.79,1)" textLength="62.66" lengthAdjust="spacing">13-11-2018</text>
<text transform="translate(442.75,674.3) rotate(-90) scale(0.79,1)" textLength="31.01" lengthAdjust="spacing">14:00</text>
<text transform="translate(459.33,729.5) rotate(-90) scale(0.79,1)" textLength="62.66" lengthAdjust="spacing">13-11-2018</text>
<text transform="translate(459.33,674.3) rotate(-90) scale(0.79,1)" textLength="31.01" lengthAdjust="spacing">14:35</text>
<text transform="translate(475.92,729.5) rotate(-90) scale(0.79,1)" textLength="62.66" lengthAdjust="spacing">13-11-2018</text>
<text transform="translate(475.92,674.3) rotate(-90) scale(0.79,1)" textLength="31.01" lengthAdjust="spacing">15:10</text>
<text transform="translate(492.50,729.5) rotate(-90) scale(0.79,1)" textLength="62.66" lengthAdjust="spacing">13-11-2018</text>
<text transform="translate(492.50,674.3) rotate(-90) scale(0.79,1)" textLength="31.01" lengthAdjust="spacing">15:45</text>
<text transform="translate(509.09,729.5) rotate(-90) scale(0.79,1)" textLength="62.66" lengthAdjust="spacing">13-11-2018</text>
<text transform="translate(509.09,674.3) rotate(-90) scale(0.79,1)" textLength="31.01" lengthAdjust="spacing">16:20</text>
<text transform="translate(525.68,729.5) rotate(-90) scale(0.79,1)" textLength="62.66" lengthAdjust="spacing">13-11-2018</text>
<text transform="translate(525.68,674.3) rotate(-90) scale(0.79,1)" textLength="31.01" lengthAdjust="spacing">16:55</text>
<text transform="translate(542.26,729.5) rotate(-90) scale(0.79,1)" textLength="62.66" lengthAdjust="spacing">13-11-2018</text>
<text transform="translate(542.26,674.3) rotate(-90) scale(0.79,1)" textLength="31.01" lengthAdjust="spacing">17:30</text>
<text transform="translate(558.85,729.5) rotate(-90) scale(0.79,1)" textLength="62.66" lengthAdjust="spacing">13-11-2018</text>
<text transform="translate(558.85,674.3) rotate(-90) scale(0.79,1)" textLength="31.01" lengthAdjust="spacing">18:05</text>
<text transform="translate(575.43,729.5) rotate(-90) scale(0.79,1)" textLength="62.66" lengthAdjust="spacing">13-11-2018</text>
<text transform="translate(575.43,674.3) rotate(-90) scale(0.79,1)" textLength="31.01" lengthAdjust="spacing">18:40</text>
<text transform="translate(592.02,729.5) rotate(-90) scale(0.79,1)" textLength="62.66" lengthAdjust="spacing">13-11-2018</text>
<text transform="translate(592.02,674.3) rotate(-90) scale(0.79,1)" textLength="31.01" lengthAdjust="spacing">19:15</text>
<text transform="translate(608.60,729.5) rotate(-90) scale(0.79,1)" textLength="62.66" lengthAdjust="spacing">13-11-2018</text>
<text transform="translate(608.60,674.3) rotate(-90) scale(0.79,1)" textLength="31.01" lengthAdjust="spacing">19:50</text>
<text transform="translate(625.19,729.5) rotate(-90) scale(0.79,1)" textLength="62.66" lengthAdjust="spacing">13-11-2018</text>
<text transform="translate(625.19,674.3) rotate(-90) scale(0.79,1)" textLength="31.01" lengthAdjust="spacing">20:25</text>
<text transform="translate(641.77,729.5) rotate(-90) scale(0.79,1)" textLength="62.66" lengthAdjust="spacing">13-11-2018</text>
<text transform="translate(641.77,674.3) rotate(-90) scale(0.79,1)" textLength="31.01" lengthAdjust="spacing">21:00</text>
<text transform="translate(658.36,729.5) rotate(-90) scale(0.79,1)" textLength="62.66" lengthAdjust="spacing">13-11-2018</text>
<text transform="translate(658.36,674.3) rotate(-90) scale(0.79,1)" textLength="31.01" lengthAdjust="spacing">21:35</text>
<text transform="translate(674.94,729.5) rotate(-90) scale(0.79,1)" textLength="62.66" lengthAdjust="spacing">13-11-2018</text>
<text transform="translate(674.94,674.3) rotate(-90) scale(0.79,1)" textLength="31.01" lengthAdjust="spacing">22:10</text>
<text transform="translate(691.53,729.5) rotate(-90) scale(0.79,1)" textLength="62.66" lengthAdjust="spacing">13-11-2018</text>
<text transform="translate(691.53,674.3) rotate(-90) scale(0.79,1)" textLength="31.01" lengthAdjust="spacing">22:45</text>
<text transform="translate(708.11,729.5) rotate(-90) scale(0.79,1)" textLength="62.66" lengthAdjust="spacing">13-11-2018</text>
<text transform="translate(708.11,674.3) rotate(-90) scale(0.79,1)" textLength="31.01" lengthAdjust="spacing">23:20</text>
<text transform="translate(724.70,729.5) rotate(-90) scale(0.79,1)" textLength="62.66" lengthAdjust="spacing">13-11-2018</text>
<text transform="translate(724.70,674.3) rotate(-90) scale(0.79,1)" textLength="31.01" lengthAdjust="spacing">23:55</text>
</g>
<g font-family="DejaVu Sans, Verdana, sans-serif" font-size="10.6" fill="#222">
<rect x="12" y="26.0" width="8" height="3" fill="#8a00e8"/>
<text x="29.5" y="31.7" textLength="108.93" lengthAdjust="spacingAndGlyphs">TT котел (19,87°C)</text>
<rect x="12" y="44.2" width="8" height="3" fill="#ff0000"/>
<text x="29.5" y="49.8" textLength="165.78" lengthAdjust="spacingAndGlyphs">Теплоаккумулятор (32,12°C)</text>
<rect x="12" y="62.5" width="8" height="3" fill="#ff6010"/>
<text x="29.5" y="68.1" textLength="101.71" lengthAdjust="spacingAndGlyphs">Подача (31,06°C)</text>
<rect x="12" y="79.5" width="8" height="3" fill="#0060ff"/>
<text x="29.5" y="85" textLength="108.26" lengthAdjust="spacingAndGlyphs">Обратка (28,76°C)</text>
<rect x="12" y="97.7" width="8" height="3" fill="#30f030"/>
<text x="29.5" y="103.4" textLength="110.13" lengthAdjust="spacingAndGlyphs">1-й этаж (18,67°C)</text>
<rect x="12" y="113.5" width="8" height="3" fill="#10b410"/>
<text x="29.5" y="119.4" textLength="111.34" lengthAdjust="spacingAndGlyphs">2-й этаж (17,36°C)</text>
<rect x="12" y="131.0" width="8" height="3" fill="#0060ff"/>
<text x="29.5" y="136.8" textLength="93.21" lengthAdjust="spacingAndGlyphs">Улица (-3,49°C)</text>
<rect x="12" y="149.2" width="8" height="3" fill="#ff3399"/>
<text x="29.5" y="155.4" textLength="114.39" lengthAdjust="spacingAndGlyphs">Подача ТП (24,4°C)</text>
<rect x="12" y="167.7" width="8" height="3" fill="#40c0ff"/>
<text x="29.5" y="173.6" textLength="128.25" lengthAdjust="spacingAndGlyphs">Обратка ТП (22,98°C)</text>
</g>
</svg></body></html>
